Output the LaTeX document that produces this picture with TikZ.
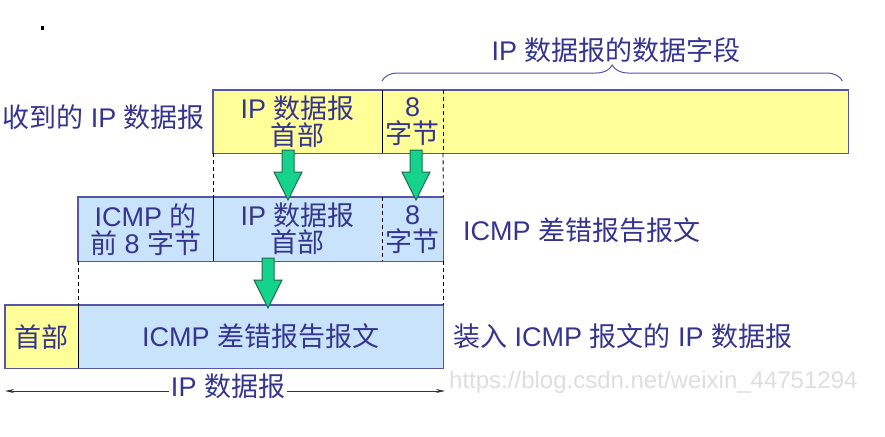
\documentclass[tikz,border=0pt]{standalone}
\usepackage{fontspec}
\setmainfont{Liberation Sans}
\newfontfamily\cjk{Noto Sans CJK SC}
\usetikzlibrary{decorations.pathreplacing,arrows.meta}
\definecolor{txt}{HTML}{35358F}
\definecolor{bord}{HTML}{5656A8}
\definecolor{yel}{HTML}{FFFF99}
\definecolor{blu}{HTML}{C9E4FA}
\definecolor{grn}{HTML}{14D38C}
\definecolor{grnd}{HTML}{1E6B4B}
\newcommand\zh[1]{{\cjk #1}}
\begin{document}
\begin{tikzpicture}[x=1pt,y=-1pt,
  every node/.style={text=txt, font=\fontsize{27}{27}\selectfont},
  cell/.style={inner sep=0pt, align=center, anchor=north west},
  boxline/.style={draw=bord, line width=1.2pt},
  divline/.style={draw=black, line width=1pt},
  conn/.style={draw=black, line width=0.9pt, dashed, dash pattern=on 4pt off 3pt},
  garrow/.style={draw=grnd, fill=grn, line width=1pt, line join=miter},
  label/.style={inner sep=1pt}]
\useasboundingbox (0,0) rectangle (885,436);
\fill[white] (0,0) rectangle (885,436);

% dot
\node[fill=black, inner sep=0pt, minimum width=3pt, minimum height=4pt] (dot) at (42,28) {};

% top row
\node[cell, fill=yel, minimum width=169pt, minimum height=63pt] (a1) at (213,90) {IP \zh{数据报}\\\zh{首部}};
\node[cell, fill=yel, minimum width=61pt, minimum height=63pt] (a2) at (382,90) {8\\\zh{字节}};
\node[cell, fill=yel, minimum width=405pt, minimum height=63pt] (a3) at (443,90) {};
\draw[boxline] (a1.north west) rectangle (a3.south east);
\draw[divline] (a1.north east) -- (a1.south east);
\draw[conn] (a2.north east) -- (a2.south east);

% middle row
\node[cell, fill=blu, minimum width=135pt, minimum height=64pt] (b1) at (78,197) {ICMP \zh{的}\\\zh{前} 8 \zh{字节}};
\node[cell, fill=blu, minimum width=169pt, minimum height=64pt] (b2) at (213,197) {IP \zh{数据报}\\\zh{首部}};
\node[cell, fill=blu, minimum width=61pt, minimum height=64pt] (b3) at (382,197) {8\\\zh{字节}};
\draw[boxline] (b1.north west) rectangle (b3.south east);
\draw[divline] (b1.north east) -- (b1.south east);
\draw[conn] (b2.north east) -- (b2.south east);

% bottom row
\node[cell, fill=yel, minimum width=73pt, minimum height=63pt] (c1) at (5,305) {\zh{首部}};
\node[cell, fill=blu, minimum width=365pt, minimum height=63pt] (c2) at (78,305) {ICMP \zh{差错报告报文}};
\draw[boxline] (c1.north west) rectangle (c2.south east);
\draw[divline] (c1.north east) -- (c1.south east);

% dashed connectors
\draw[conn] (a1.south west) -- (b2.north west);
\draw[conn] (a3.south west) -- (b3.north east);
\draw[conn] (b1.south west) -- (c2.north west);
\draw[conn] (b3.south east) -- (c2.north east);

% green arrows (top point of shaft given)
\coordinate (g1) at (288,150);
\coordinate (g2) at (416,150);
\coordinate (g3) at (268,258);
\foreach \g in {g1,g2,g3}
  \draw[garrow] (\g) ++(-6,0) -- ++(12,0) -- ++(0,22) -- ++(8,0) -- ++(-14,28) -- ++(-14,-28) -- ++(8,0) -- cycle;

% labels
\node[label, anchor=east] (lab1) at (206,117) {\zh{收到的} IP \zh{数据报}};
\node[label, anchor=west] (lab2) at (462,230) {ICMP \zh{差错报告报文}};
\node[label, anchor=west] (lab3) at (452,336) {\zh{装入} ICMP \zh{报文的} IP \zh{数据报}};
\node[label] (title) at (616,50) {IP \zh{数据报的数据字段}};

% brace
\draw[draw=bord, line width=1pt, decorate, decoration={brace, amplitude=16pt}]
  ([yshift=9pt]a2.north west) -- ([yshift=9pt, xshift=-6pt]a3.north east);

% bottom dimension arrow
\coordinate (bl) at (5,391);
\coordinate (br) at (445,391);
\draw[black!80, line width=0.9pt, {Stealth[length=9pt,width=4pt]}-{Stealth[length=9pt,width=4pt]}] (bl) -- (br);
\node[label, fill=white, inner xsep=2pt] (iplab) at (228,386) {IP \zh{数据报}};

% watermark
\node[anchor=west, text=black!13, font=\fontsize{24}{24}\selectfont, inner sep=0pt] (wm) at (449,382) {https://blog.csdn.net/weixin\_44751294};
\end{tikzpicture}
\end{document}
